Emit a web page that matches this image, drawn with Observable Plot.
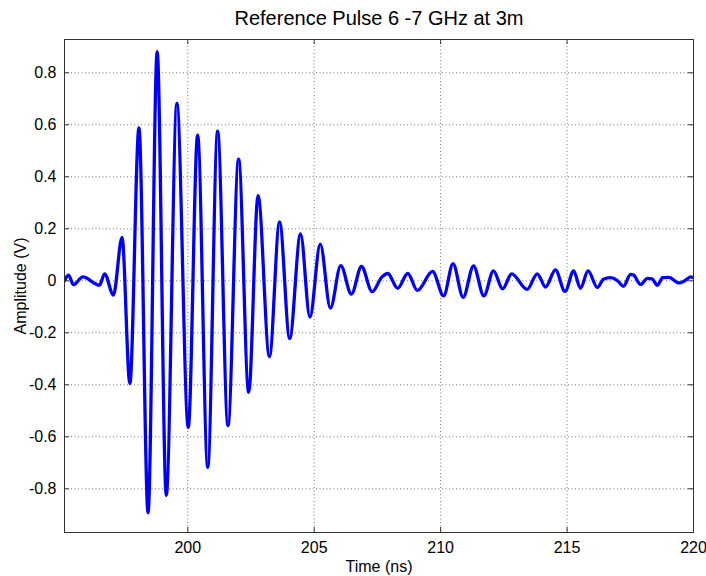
<!DOCTYPE html>
<html>
<head>
<meta charset="utf-8">
<script src="https://cdn.jsdelivr.net/npm/d3@7"></script>
<script src="https://cdn.jsdelivr.net/npm/@observablehq/plot@0.6"></script>
<style>
  html, body { margin: 0; padding: 0; background: #fff; }
</style>
</head>
<body>
<div id="chart"></div>
<script>
const titleText = "Reference Pulse 6 -7 GHz at 3m";
const xLabel = "Time (ns)";
const yLabel = "Amplitude (V)";
const xTicks = [200, 205, 210, 215, 220];
const yTicks = [-0.8, -0.6, -0.4, -0.2, 0, 0.2, 0.4, 0.6, 0.8];
const xDomain = [195.125, 220];
const yDomain = [-0.968, 0.928];

const times = [
  195.125, 195.28, 195.48, 195.85, 196.51, 196.71, 197.06, 197.40, 197.71, 198.07,
  198.43, 198.79, 199.15, 199.57, 200.02, 200.39, 200.79, 201.18, 201.59, 202.01,
  202.41, 202.78, 203.23, 203.63, 204.03, 204.46, 204.83, 205.24, 205.64, 206.05,
  206.47, 206.87, 207.29, 207.68, 207.91, 208.30, 208.70, 209.08, 209.68, 210.12,
  210.49, 210.89, 211.30, 211.71, 212.09, 212.45, 212.81, 213.42, 213.82, 214.15,
  214.54, 214.92, 215.26, 215.53, 215.83, 216.20, 216.44, 216.72, 216.98, 217.23,
  217.51, 217.63, 217.91, 218.18, 218.36, 218.57, 218.78, 219.03, 219.42, 219.65,
  219.89, 220.0
];
const amps = [
  0.0, 0.022, -0.015, 0.015, -0.017, 0.027, -0.055, 0.167, -0.395, 0.588,
  -0.892, 0.881, -0.825, 0.682, -0.564, 0.560, -0.717, 0.576, -0.557, 0.468,
  -0.429, 0.327, -0.292, 0.227, -0.222, 0.180, -0.140, 0.141, -0.105, 0.058,
  -0.051, 0.055, -0.042, 0.015, 0.028, -0.029, 0.028, -0.037, 0.036, -0.058,
  0.066, -0.064, 0.057, -0.058, 0.038, -0.031, 0.027, -0.033, 0.027, -0.024,
  0.042, -0.041, 0.038, -0.029, 0.038, -0.026, 0.006, 0.012, 0.002, -0.021,
  0.025, 0.022, -0.014, 0.009, 0.007, -0.017, 0.012, 0.013, -0.008, 0.0,
  0.015, 0.012
];

const data = times.map((t, i) => ({t, v: amps[i]}));

const W = 706, H = 576;
const mL = 64, mR = 13, mT = 39, mB = 44;
const plotW = W - mL - mR, plotH = H - mT - mB;
const axisColor = "#333";
const gridStyle = {stroke: "#777", strokeOpacity: 1, strokeWidth: 1, strokeDasharray: "1,2.5"};
const fmtY = d => d === 0 ? "0" : d.toFixed(1);

const chart = Plot.plot({
  width: W,
  height: H,
  marginLeft: mL,
  marginRight: mR,
  marginTop: mT,
  marginBottom: mB,
  style: {fontFamily: "'Liberation Sans', Arial, Helvetica, sans-serif", fontSize: "16px", color: "#000", background: "#fff"},
  x: {domain: xDomain},
  y: {domain: yDomain},
  marks: [
    Plot.gridX(xTicks.filter(d => d < 220), gridStyle),
    Plot.gridY(yTicks, gridStyle),
    Plot.line(data, {x: "t", y: "v", stroke: "#0000ff", strokeWidth: 3.3, curve: "monotone-x", clip: true}),
    Plot.frame({stroke: axisColor, strokeWidth: 1}),
    Plot.tickX(xTicks, {x: d => d, stroke: axisColor, insetTop: plotH - 5}),
    Plot.tickX(xTicks, {x: d => d, stroke: axisColor, insetBottom: plotH - 5}),
    Plot.tickY(yTicks, {y: d => d, stroke: axisColor, insetLeft: plotW - 5}),
    Plot.tickY(yTicks, {y: d => d, stroke: axisColor, insetRight: plotW - 5}),
    Plot.axisX(xTicks, {tickSize: 0, tickPadding: 9, tickFormat: d => String(d), label: null, fontSize: 16}),
    Plot.axisY(yTicks, {tickSize: 0, tickPadding: 8, tickFormat: fmtY, label: null, fontSize: 16}),
    Plot.text([xLabel], {text: d => d, frameAnchor: "bottom", lineAnchor: "middle", textAnchor: "middle", dy: 34, fontSize: 16}),
    Plot.text([yLabel], {text: d => d, frameAnchor: "left", lineAnchor: "middle", textAnchor: "middle", dx: -44, rotate: -90, fontSize: 16}),
    Plot.text([titleText], {text: d => d, frameAnchor: "top", lineAnchor: "middle", textAnchor: "middle", dy: -21, fontSize: 20})
  ]
});
document.getElementById("chart").appendChild(chart);
</script>
</body>
</html>
